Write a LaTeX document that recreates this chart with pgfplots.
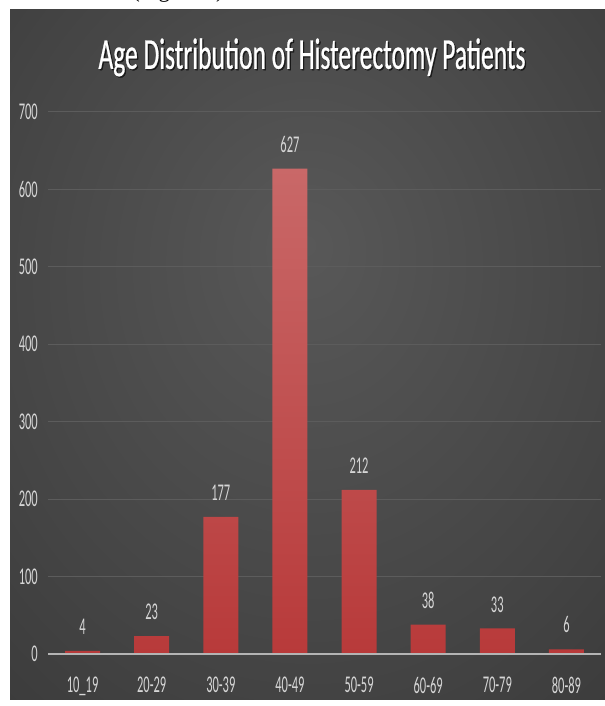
\documentclass[border=0pt]{standalone}
\usepackage{fontspec}
\setmainfont{Carlito}[FakeStretch=0.52]
\newfontfamily\titlefont{Carlito}[FakeStretch=0.58,FakeBold=0.6]
\newfontfamily\docfont{Liberation Serif}
\usepackage{pgfplots}
\pgfplotsset{compat=1.18}
\definecolor{gridc}{HTML}{5C5C5C}
\definecolor{axisc}{HTML}{B4B4B4}
\definecolor{labc}{HTML}{D6D6D6}
\definecolor{barTop}{HTML}{C96868}
\definecolor{barBot}{HTML}{B83A3A}
\definecolor{bgA}{HTML}{585858}
\definecolor{bgB}{HTML}{444444}
\definecolor{bgC}{HTML}{222222}
\pgfdeclareradialshading{bgshade}{\pgfpoint{0bp}{8bp}}{color(0bp)=(bgA); color(28bp)=(bgB); color(72bp)=(bgC)}
\begin{document}
\begin{tikzpicture}
\useasboundingbox (0,0) rectangle (453.75pt,529.5pt);
\fill[white] (0,0) rectangle (453.75pt,529.5pt);
\begin{scope}
\clip (0,0) rectangle (453.75pt,529.5pt);
\node[anchor=base west, font=\docfont\fontsize{17}{20}\selectfont, inner sep=0] at (99pt,531pt) {(Figure 1)};
\end{scope}
\shade[shading=bgshade] (7.5pt,4.5pt) rectangle (453.75pt,522pt);
\node[font=\titlefont\fontsize{33}{36}\selectfont, text=black, opacity=0.6] at (235pt,485.5pt) {Age Distribution of Histerectomy Patients};
\node[font=\titlefont\fontsize{33}{36}\selectfont, text=white] at (234pt,486.5pt) {Age Distribution of Histerectomy Patients};
\begin{axis}[
  at={(36pt,39pt)}, anchor=south west, scale only axis,
  width=414.75pt, height=406.5pt,
  xmin=-0.5, xmax=7.5, ymin=0, ymax=700,
  ytick={0,100,...,700},
  xtick={0,...,7},
  xticklabels={10\_19,20-29,30-39,40-49,50-59,60-69,70-79,80-89},
  ymajorgrids, grid style={gridc, line width=0.75pt},
  axis line style={draw=none},
  major tick length=0pt,
  /pgf/number format/assume math mode=true,
  tick label style={text=labc, font=\fontsize{18}{21}\selectfont, inner sep=0pt},
  yticklabel style={xshift=-7.5pt},
  xticklabel style={yshift=-17.25pt},
  clip=false,
]
\addplot[ybar, bar width=26.25pt, draw=none, top color=barTop, bottom color=barBot,
  nodes near coords,
  every node near coord/.append style={text=labc, font=\fontsize{18}{21}\selectfont, inner sep=0pt, anchor=south, yshift=12pt}]
  coordinates {(0,4) (1,23) (2,177) (3,627) (4,212) (5,38) (6,33) (7,6)};
\addplot[axisc, line width=2pt, forget plot] coordinates {(-0.5,0) (7.5,0)};
\end{axis}
\end{tikzpicture}
\end{document}
